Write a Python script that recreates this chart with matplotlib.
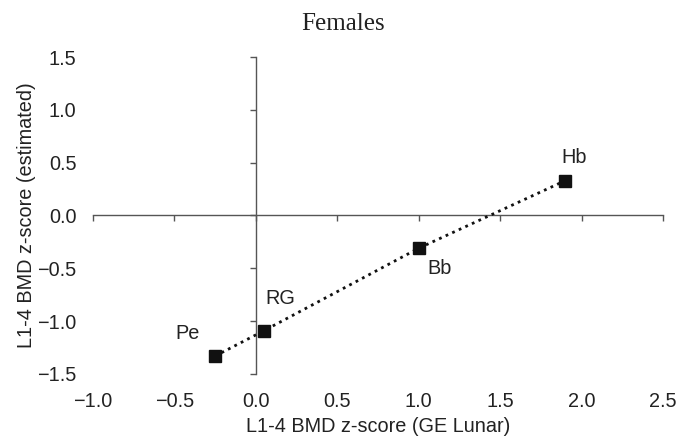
import matplotlib
matplotlib.use("Agg")
import matplotlib.pyplot as plt
import numpy as np

# values
groups = ["Pe", "RG", "Bb", "Hb"]
z_lunar = [-0.25, 0.05, 1.00, 1.90]
z_estimated = [-1.33, -1.09, -0.31, 0.33]
label_offsets = [(-20, 16.5), (12, 23), (15, -14.5), (6.5, 17)]  # points

x_ticks = [-1.0, -0.5, 0.0, 0.5, 1.0, 1.5, 2.0, 2.5]
y_ticks = [-1.5, -1.0, -0.5, 0.0, 0.5, 1.0, 1.5]

plt.rcParams["font.family"] = ["Liberation Sans", "DejaVu Sans"]
axis_grey = "#555555"
text_col = "#222222"
fs = 14.3

fig = plt.figure(figsize=(6.82, 4.41), dpi=100)
rect = [0.1364, 0.152, 0.8357, 0.7187]

# outer axes: only carries the tick labels at the edges
ax = fig.add_axes(rect)
ax.set_xlim(-1.0, 2.5)
ax.set_ylim(-1.5, 1.5)
ax.set_xticks(x_ticks)
ax.set_yticks(y_ticks)
ax.set_xticklabels([f"{t:.1f}".replace("-", "\u2212") for t in x_ticks])
ax.set_yticklabels([f"{t:.1f}".replace("-", "\u2212") for t in y_ticks])
ax.tick_params(length=0, labelsize=fs, colors=text_col)
ax.tick_params(axis="x", pad=13)
ax.tick_params(axis="y", pad=12)
for s in ax.spines.values():
    s.set_visible(False)
ax.set_xlabel("L1-4 BMD z-score (GE Lunar)", fontsize=fs, color=text_col, labelpad=4)
ax.set_ylabel("L1-4 BMD z-score (estimated)", fontsize=fs, color=text_col, labelpad=1)

# inner axes: crossing axis lines at zero with small ticks
ax2 = fig.add_axes(rect, sharex=ax, sharey=ax, frameon=True)
ax2.patch.set_alpha(0)
for side in ("top", "right"):
    ax2.spines[side].set_visible(False)
ax2.spines["left"].set_position(("data", 0))
ax2.spines["bottom"].set_position(("data", 0))
for side in ("left", "bottom"):
    ax2.spines[side].set_color(axis_grey)
    ax2.spines[side].set_linewidth(1.0)
ax2.tick_params(labelleft=False, labelbottom=False, length=4, width=1.0,
                color=axis_grey)

ax2.plot(z_lunar, z_estimated, linestyle=(0, (1, 1.6)), linewidth=2.0,
         color="#111111", marker="s", markersize=8.5, markerfacecolor="#111111",
         markeredgecolor="#111111", zorder=3)
for g, x, y, off in zip(groups, z_lunar, z_estimated, label_offsets):
    ax2.annotate(g, (x, y), xytext=off, textcoords="offset points",
                 fontsize=fs, color=text_col, ha="center", va="center")

fig.text(0.503, 0.946, "Females", fontsize=18, family=["Liberation Serif", "DejaVu Serif"],
         ha="center", va="center", color=text_col)

fig.savefig("out.png", dpi=100)
